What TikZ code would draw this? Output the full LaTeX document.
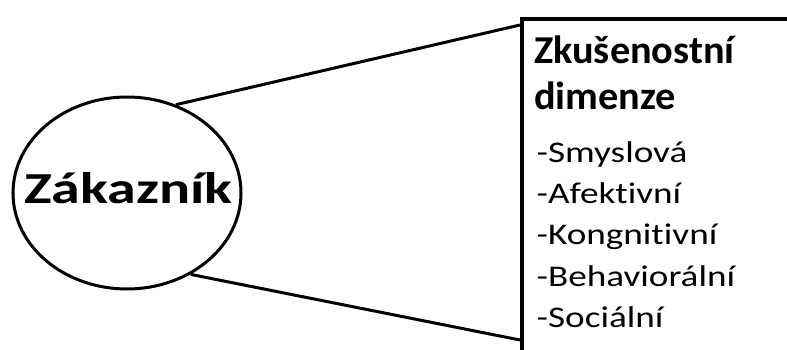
\documentclass[tikz,border=0pt]{standalone}
\usepackage{fontspec}
\usepackage{graphicx}
\setmainfont{Carlito}[Ligatures=NoCommon]
\usetikzlibrary{shapes.geometric}
\newcommand{\wideby}[2]{\scalebox{#1}[1]{#2}}
\begin{document}
\begin{tikzpicture}[x=1pt,y=1pt,
  shapeline/.style={draw=black,line width=3pt},
  heading/.style={font=\fontsize{39.5}{46}\selectfont\bfseries,anchor=base west,inner sep=0pt},
  item/.style={font=\fontsize{30}{41}\selectfont,anchor=base west,inner sep=0pt},
  conn/.style={draw=black,line width=3pt}]
\useasboundingbox (0,0) rectangle (787,349);
\clip (0,0) rectangle (787,349);
\fill[white] (0,0) rectangle (787,349);
% customer ellipse
\node[ellipse,shapeline,minimum width=228pt,minimum height=192pt,inner sep=0pt] (cust) at (127,156) {};
\node[font=\fontsize{44.3}{50}\selectfont\bfseries,anchor=base west,inner sep=0pt] (custlbl) at (24,146) {\wideby{1.31}{Zákazník}};
% dimension box (extends past the picture edges)
\node[draw=black,line width=4pt,anchor=north west,minimum width=300pt,minimum height=360pt,inner sep=0pt] (dim) at (520,332) {};
\coordinate (ut) at (520,324);
\coordinate (lt) at (520,9);
\draw[conn] (cust.61) -- (ut);
\draw[conn] (cust.-52) -- (lt);
% texts
\node[heading] (h1) at (534,286) {\wideby{1.02}{Zkušenostní}};
\node[heading] (h2) at (534,240) {\wideby{1.02}{dimenze}};
\node[item] (i1) at (536.5,187) {\wideby{1.24}{-Smyslová}};
\node[item] (i2) at (536.5,146) {\wideby{1.24}{-Afektivní}};
\node[item] (i3) at (536.5,104.5) {\wideby{1.24}{-Kongnitivní}};
\node[item] (i4) at (536.5,63) {\wideby{1.24}{-Behaviorální}};
\node[item] (i5) at (536.5,22) {\wideby{1.24}{-Sociální}};
\end{tikzpicture}
\end{document}
